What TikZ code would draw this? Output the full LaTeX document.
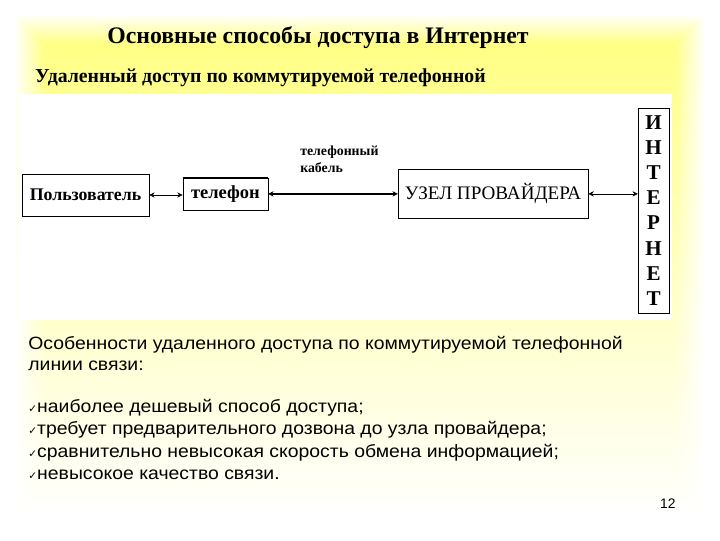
\documentclass[tikz,border=0pt]{standalone}
\usepackage{fontspec}
\usetikzlibrary{arrows.meta}
\setmainfont{Liberation Serif}
\setsansfont{Liberation Sans}
\newfontfamily\bodyfont[FakeStretch=1.09]{Liberation Sans}
\newfontfamily\tickfont{DejaVu Sans}
\newcommand{\tck}{{\tickfont\fontsize{8}{8}\selectfont ✓}}
\begin{document}
\begin{tikzpicture}[
  box/.style={draw, thin, inner sep=2pt, font=\bfseries\fontsize{13.5}{13.5}\selectfont},
  label/.style={font=\bfseries\fontsize{10.5}{13}\selectfont, align=left, inner sep=0pt},
  body/.style={font=\bodyfont\fontsize{13.5}{17}\selectfont, inner sep=0pt, anchor=base west},
  arrow/.style={{Stealth[length=4pt, width=4pt]}-{Stealth[length=4pt, width=4pt]}, thin}
]
\useasboundingbox (0,0) rectangle (19.2,14.4);
\fill[white] (0,0) rectangle (19.2,14.4);

% Yellow glow behind the slide
\foreach \i [evaluate=\i as \t using 48*\i/10, evaluate=\i as \m using 17*\i/10, evaluate=\i as \b using 3*\i/10] in {0,...,10}
  \fill[top color=yellow!\t, middle color=yellow!\m, bottom color=yellow!\b]
    (0.35+\i*0.08, 0.55+\i*0.08) rectangle (18.85-\i*0.08, 14.05-\i*0.08);

% Titles
\node[font=\bfseries\fontsize{18}{18}\selectfont] (title) at (8.48, 13.41) {Основные способы доступа в Интернет};
\node[font=\bfseries\fontsize{15}{15}\selectfont, anchor=west, inner sep=0pt] (subtitle) at (0.93, 12.32) {Удаленный доступ по коммутируемой телефонной};

% White diagram area
\fill[white] (0.53, 5.87) rectangle (17.92, 11.89);

% Diagram boxes
\node[box, minimum width=3.39cm, minimum height=1.12cm] (user) at (2.28, 9.2) {Пользователь};
\node[box, font=\bfseries\fontsize{14}{14}\selectfont, minimum width=2.27cm, minimum height=0.85cm] (phone) at (6.01, 9.23) {телефон};
\draw[line width=1pt] (phone.north west) -- (phone.north east);
\node[box, font=\fontsize{14.5}{14.5}\selectfont, minimum width=5.07cm, minimum height=1.31cm] (prov) at (13.15, 9.23) {УЗЕЛ ПРОВАЙДЕРА};
\node[box, font=\bfseries\fontsize{16}{19.1}\selectfont, align=center, minimum width=0.83cm, minimum height=5.47cm] (inet) at (17.43, 8.79)
  {И\\Н\\Т\\Е\\Р\\Н\\Е\\Т};

% Cable label
\node[label, anchor=north west] (cable) at (8.0, 10.52) {телефонный\\кабель};

% Connectors
\draw[arrow] (user) -- (user -| phone.west);
\draw[arrow, line width=1.4pt] (phone.east) -- (phone.east -| prov.west);
\draw[arrow] (prov.east) -- (prov.east -| inet.west);

% Text below
\node[body] (feat1) at (0.75, 5.09) {Особенности удаленного доступа по коммутируемой телефонной};
\node[body] (feat2) at (0.75, 4.51) {линии связи:};
\node[body] (item1) at (0.75, 3.41) {\tck наиболее дешевый способ доступа;};
\node[body] (item2) at (0.75, 2.81) {\tck требует предварительного дозвона до узла провайдера;};
\node[body] (item3) at (0.75, 2.21) {\tck сравнительно невысокая  скорость обмена информацией;};
\node[body] (item4) at (0.75, 1.61) {\tck невысокое качество связи.};
\node[font=\sffamily\fontsize{10.5}{10.5}\selectfont] (page) at (17.81, 0.96) {12};
\end{tikzpicture}
\end{document}
